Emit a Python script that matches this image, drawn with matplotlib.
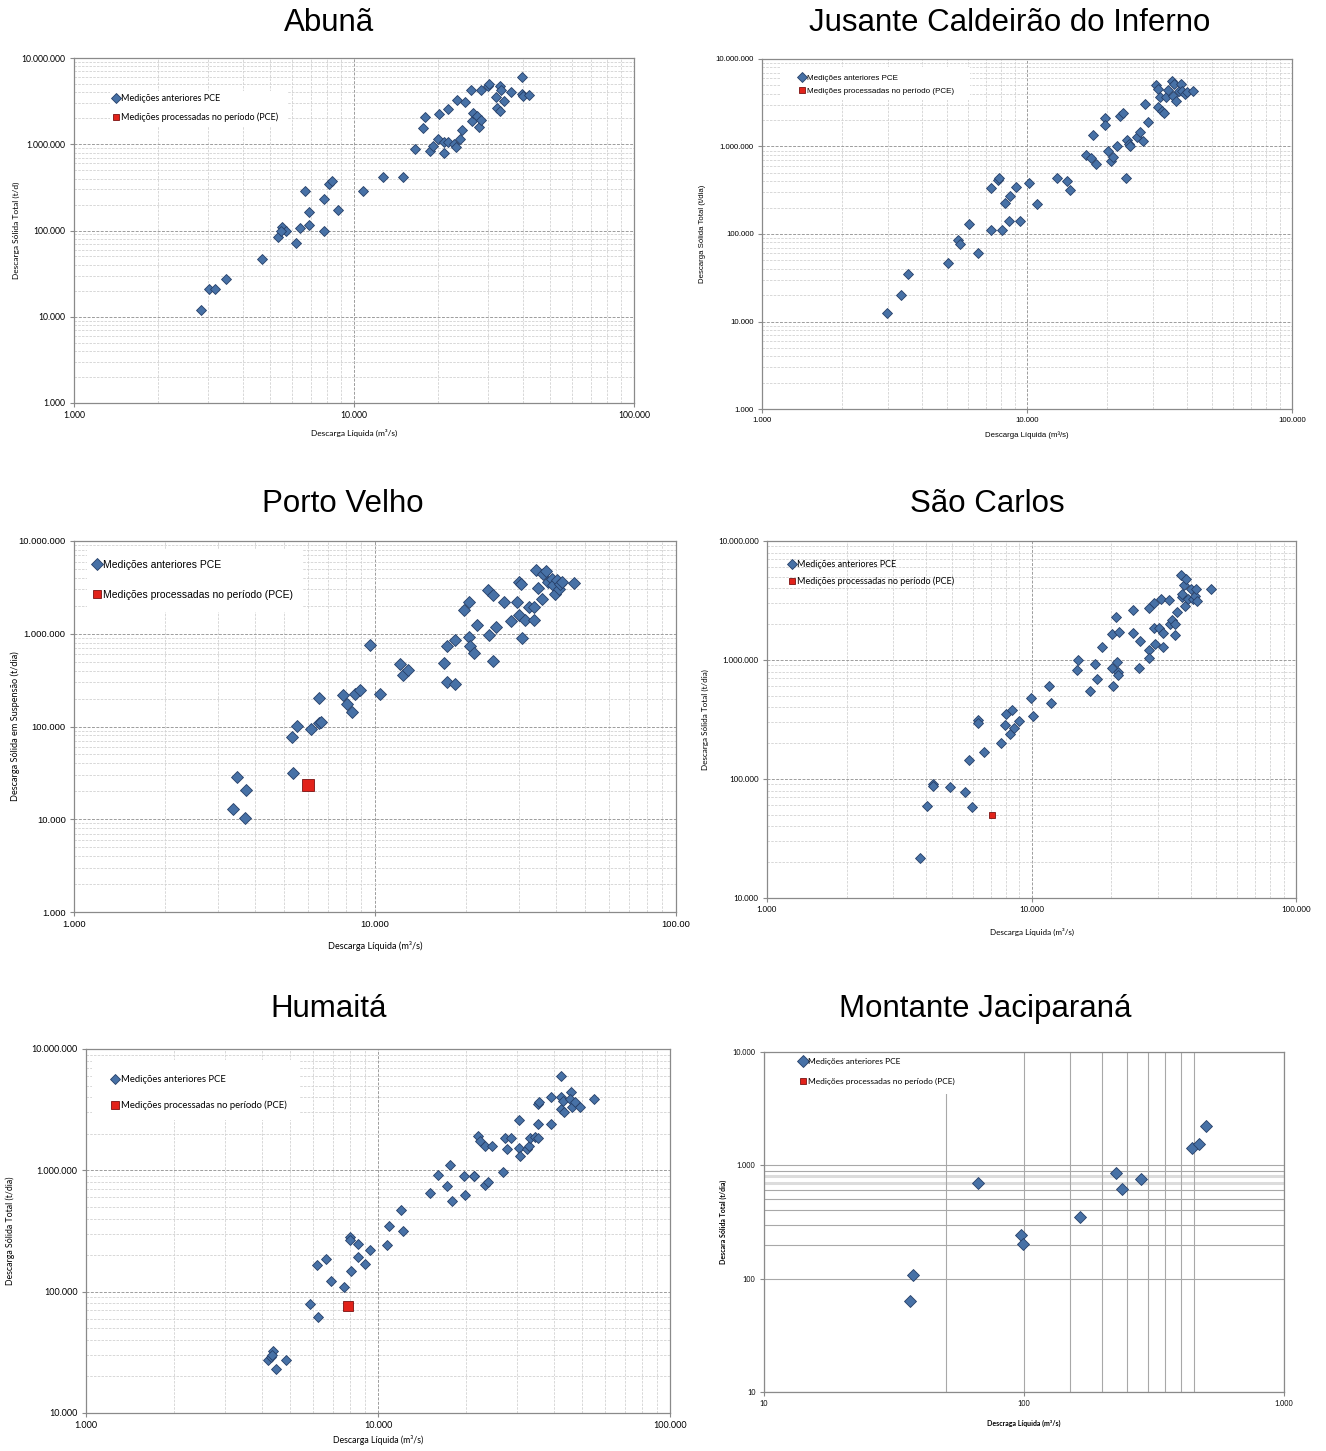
import numpy as np
import matplotlib.pyplot as plt
from matplotlib.lines import Line2D
from matplotlib.patches import Rectangle
from matplotlib.ticker import FixedLocator, FixedFormatter, LogLocator, NullFormatter

W, H, DPI = 1326, 1451, 100

# ---- data (vazao m3/s, descarga solida) ----
abuna_q = [2850, 3040, 3200, 3480, 4700, 5350, 5520, 5700, 5500, 6230, 6440, 6680, 6900, 6900, 7830,
           7830, 8170, 8360, 8740, 10800, 12700, 15000, 16500, 17600, 17900, 18700, 19100, 20000,
           20200, 20900, 20900, 21600, 21600, 22800, 23200, 23400, 24000, 24400, 25000, 26100, 26300,
           26600, 27500, 28000, 28500, 28500, 30100, 30400, 32100, 32500, 33300, 33300, 33600, 34400,
           36400, 39800, 39800, 40200, 42300]
abuna_qs = [11900, 21000, 21000, 27400, 47100, 83400, 110000, 100000, 100000, 71600, 107000, 290000,
            162000, 117000, 234000, 99500, 346000, 378000, 175000, 284000, 417000, 413000, 881000,
            1540000, 2070000, 828000, 964000, 1160000, 2240000, 792000, 1070000, 1070000, 2560000,
            1000000, 930000, 3290000, 1160000, 1480000, 3100000, 4290000, 1840000, 2300000, 2150000,
            1580000, 4300000, 1930000, 4690000, 5000000, 3530000, 2630000, 4700000, 2400000, 4300000,
            3150000, 4000000, 5970000, 3860000, 3600000, 3750000]
abuna_new_q, abuna_new_qs = [], []

jusante_q = [2970, 3360, 3550, 5020, 5490, 5580, 6040, 6530, 7310, 7310, 7780, 7830, 8060, 8270, 8650,
             8520, 9060, 9390, 10200, 10900, 13000, 14200, 14500, 16700, 17400, 17700, 18200, 19700,
             19700, 20200, 20800, 21200, 21800, 22400, 23000, 23600, 23900, 24300, 24500, 25900, 26700,
             27400, 27900, 28600, 30600, 31200, 31300, 31800, 32300, 32800, 33400, 34000, 35300, 35900,
             35600, 36600, 37300, 38200, 38600, 39400, 40100, 42400]
jusante_qs = [12600, 20000, 34700, 46700, 84600, 76300, 131000, 60700, 112000, 338000, 417000, 440000,
              112000, 228000, 271000, 139000, 344000, 141000, 385000, 218000, 440000, 403000, 315000,
              790000, 743000, 1370000, 634000, 2120000, 1780000, 900000, 675000, 755000, 1000000,
              2260000, 2400000, 440000, 1200000, 1080000, 1000000, 1300000, 1460000, 1170000, 3070000,
              1930000, 5100000, 4550000, 2810000, 3660000, 2530000, 2410000, 3660000, 4430000, 5660000,
              5180000, 3820000, 3350000, 4280000, 5180000, 4340000, 3990000, 4170000, 4340000]
jusante_new_q, jusante_new_qs = [], []

porto_q = [3470, 3370, 3730, 3690, 5360, 5310, 5490, 6120, 6510, 6620, 6530, 7800, 8070, 8410, 8610,
           8890, 9640, 10400, 12100, 12400, 12900, 17000, 17400, 18400, 17400, 18400, 19700, 20600,
           20600, 20700, 21400, 21900, 23700, 23900, 24600, 24600, 25200, 26800, 28400, 29700, 30000,
           30200, 30500, 30800, 31600, 32600, 33700, 33700, 34200, 34800, 35800, 36200, 37100, 37600,
           38700, 38900, 39600, 40200, 40800, 41300, 41800, 45800]
porto_qs = [28200, 12900, 20900, 10400, 31900, 76200, 101000, 93600, 108000, 112000, 205000, 218000,
            173000, 142000, 226000, 250000, 752000, 223000, 477000, 357000, 405000, 489000, 303000,
            290000, 739000, 851000, 1820000, 2200000, 925000, 733000, 627000, 1240000, 2940000, 979000,
            2600000, 510000, 1190000, 2200000, 1360000, 2200000, 1580000, 3610000, 3420000, 902000,
            1400000, 1920000, 1920000, 1400000, 4910000, 3140000, 2360000, 4380000, 4750000, 3610000,
            3930000, 3330000, 2660000, 3830000, 3060000, 3470000, 3600000, 3550000]
porto_new_q, porto_new_qs = [6000], [23300]

carlos_q = [3780, 4030, 4230, 4260, 4900, 5590, 5970, 5780, 6290, 6290, 6620, 7660, 7990, 7960, 8300,
            8440, 8570, 8990, 9930, 10100, 11600, 11800, 14900, 15000, 16600, 17400, 17700, 18500,
            20200, 20200, 20400, 20900, 21100, 21300, 21300, 21500, 24100, 24100, 25400, 25700, 27900,
            27900, 27900, 29000, 29000, 29400, 30300, 31000, 31300, 31300, 33200, 33300, 34000, 34900,
            35000, 35400, 36700, 37000, 37000, 37800, 38000, 38400, 39200, 40000, 40800, 41500, 42000,
            42300, 47800]
carlos_qs = [21500, 59200, 90900, 86500, 85300, 77300, 58700, 145000, 316000, 296000, 169000, 200000,
             355000, 282000, 237000, 378000, 266000, 310000, 480000, 341000, 599000, 435000, 826000,
             1000000, 545000, 927000, 690000, 1290000, 854000, 1650000, 599000, 2300000, 968000,
             800000, 750000, 1720000, 2610000, 1690000, 854000, 1450000, 2750000, 1210000, 1030000,
             3000000, 1840000, 1370000, 1840000, 3260000, 1670000, 1280000, 3200000, 2020000, 2160000,
             1620000, 2000000, 2530000, 5170000, 3410000, 3600000, 4270000, 2820000, 4800000, 3260000,
             3950000, 3260000, 3480000, 3950000, 3160000, 3950000]
carlos_new_q, carlos_new_qs = [7060], [49500]

humaita_q = [4200, 4300, 4360, 4340, 4480, 4860, 5830, 6230, 6190, 6660, 6890, 7630, 8020, 8020, 8070,
             8510, 8510, 9060, 9380, 10700, 10900, 12000, 12200, 15100, 16100, 17200, 17600, 17900,
             19700, 19900, 21300, 21400, 22000, 22400, 23200, 23200, 23900, 24500, 26800, 27200, 27600,
             28500, 30500, 30500, 30700, 32300, 32800, 33100, 34400, 35300, 35300, 35700, 35300, 39100,
             39100, 42500, 42500, 42500, 43000, 43500, 45700, 45400, 46300, 47200, 49000, 54900]
humaita_qs = [27300, 29100, 32200, 30300, 23100, 27300, 79000, 62300, 167000, 186000, 122000, 110000,
              280000, 265000, 147000, 247000, 192000, 169000, 220000, 244000, 350000, 471000, 318000,
              650000, 916000, 748000, 1110000, 562000, 903000, 627000, 895000, 903000, 1930000,
              1760000, 1600000, 762000, 800000, 1600000, 965000, 1850000, 1500000, 1830000, 2620000,
              1530000, 1320000, 1500000, 1600000, 1850000, 1870000, 1840000, 3520000, 3630000, 2410000,
              4050000, 2410000, 6030000, 3990000, 3200000, 3750000, 3000000, 4390000, 3870000, 3300000,
              3630000, 3300000, 3870000]
humaita_new_q, humaita_new_qs = [7910], [76700]

jaci_q = [36.3, 37.4, 66.4, 97.2, 99.3, 164, 226, 239, 281, 443, 469, 501]
jaci_qs = [63, 108, 703, 244, 203, 349, 850, 619, 753, 1410, 1530, 2230]
jaci_new_q, jaci_new_qs = [], []

# tick values / labels
ticks_q = [1000, 10000, 100000]
labels_q = ['1.000', '10.000', '100.000']
labels_q_pv = ['1.000', '10.000', '100.00']
ticks_qs7 = [1000, 10000, 100000, 1000000, 10000000]
labels_qs7 = ['1.000', '10.000', '100.000', '1.000.000', '10.000.000']
ticks_qs4 = [10000, 100000, 1000000, 10000000]
labels_qs4 = ['10.000', '100.000', '1.000.000', '10.000.000']
ticks_jq = [10, 100, 1000]
labels_jq = ['10', '100', '1.000']
ticks_jqs = [10, 100, 1000, 10000]
labels_jqs = ['10', '100', '1.000', '10.000']

leg_old = 'Medições anteriores PCE'
leg_new = 'Medições processadas no período (PCE)'
xlab = 'Descarga Líquida (m³/s)'

BLUE, BLUE_E = '#4771A6', '#263F68'
RED, RED_E = '#E2231B', '#7A1212'
CAL, ARI = ['Lato', 'DejaVu Sans'], ['Liberation Sans', 'DejaVu Sans']

fig = plt.figure(figsize=(W / DPI, H / DPI), dpi=DPI)


def fx(p):
    return p / W


def fy(p):
    return 1 - p / H


def panel(box, title, tpos, q, qs, nq, nqs, xt, xl, yt, yl, ylabel, xlabel,
          ylab_x, xlab_y, lbox, lpos, lgap, fam, tfs, lfs, gfs, ms, msn, bold=False, excel2=False):
    x0, x1, y0, y1 = box
    ax = fig.add_axes([fx(x0), fy(y1), (x1 - x0) / W, (y1 - y0) / H])
    ax.set_xscale('log')
    ax.set_yscale('log')
    ax.plot(q, qs, ls='none', marker='D', ms=ms, color=BLUE, mec=BLUE_E, mew=0.6, zorder=3)
    ax.plot(nq, nqs, ls='none', marker='s', ms=msn, color=RED, mec=RED_E, mew=0.6, zorder=4)
    ax.set_xlim(xt[0], xt[-1])
    ax.set_ylim(yt[0], yt[-1])
    ax.xaxis.set_major_locator(FixedLocator(xt))
    ax.xaxis.set_major_formatter(FixedFormatter(xl))
    ax.yaxis.set_major_locator(FixedLocator(yt))
    ax.yaxis.set_major_formatter(FixedFormatter(yl))
    ax.xaxis.set_minor_formatter(NullFormatter())
    ax.yaxis.set_minor_formatter(NullFormatter())
    if excel2:
        ax.xaxis.set_minor_locator(FixedLocator([50, 150, 200, 250, 300, 350, 400, 450]))
        ax.yaxis.set_minor_locator(FixedLocator([200, 300, 400, 500, 600, 900]))
        ax.grid(True, which='both', color='#A8A8A8', lw=0.8, ls='-')
        for v in (700, 800):
            ax.axhline(v, color='#DCDCDC', lw=2.2, zorder=0.4)
    else:
        ax.xaxis.set_minor_locator(LogLocator(base=10, subs=np.arange(2, 10)))
        ax.yaxis.set_minor_locator(LogLocator(base=10, subs=np.arange(2, 10)))
        ax.grid(True, which='major', color='#9C9C9C', lw=0.7, ls=(0, (3, 1.5)))
        ax.grid(True, which='minor', color='#D2D2D2', lw=0.6, ls=(0, (3, 1.5)))
    ax.set_axisbelow(True)
    for s in ax.spines.values():
        s.set_color('#8A8A8A')
        s.set_linewidth(0.9)
    ax.tick_params(which='major', length=3, color='#8A8A8A', labelsize=tfs, pad=3)
    ax.tick_params(which='minor', length=0)
    wt = 'bold' if bold else 'normal'
    for t in ax.get_xticklabels() + ax.get_yticklabels():
        t.set_family(fam[0])
    ax.set_ylabel(ylabel, family=fam[1], fontsize=lfs, weight=wt)
    ax.set_xlabel(xlabel, family=fam[1], fontsize=lfs, weight=wt)
    ax.yaxis.set_label_coords((ylab_x - x0) / (x1 - x0), 0.5)
    ax.xaxis.set_label_coords(0.5, (y1 - xlab_y) / (y1 - y0))
    ax.yaxis.label.set_va('center')
    ax.xaxis.label.set_va('center')
    if lbox is not None:
        bx0, bx1, by0, by1 = lbox
        ax.add_patch(Rectangle((fx(bx0), fy(by1)), (bx1 - bx0) / W, (by1 - by0) / H,
                               transform=fig.transFigure, facecolor='white', edgecolor='none',
                               zorder=1, clip_on=False))
    h = [Line2D([], [], ls='none', marker='D', ms=ms, color=BLUE, mec=BLUE_E, mew=0.6),
         Line2D([], [], ls='none', marker='s', ms=min(msn, 6), color=RED, mec=RED_E, mew=0.6)]
    fpx = gfs * DPI / 72
    hl = 1.0
    ax.legend(h, [leg_old, leg_new], loc='upper left',
              bbox_to_anchor=(fx(lpos[0] - hl * fpx / 2), fy(lpos[1] - fpx * 0.62)),
              bbox_transform=fig.transFigure, frameon=False, borderpad=0, borderaxespad=0,
              handlelength=hl, handletextpad=0.1, labelspacing=(lgap - fpx) / fpx,
              prop={'family': fam[2], 'size': gfs})
    fig.text(fx(tpos[0]), fy(tpos[1]), title, ha='center', va='baseline', fontsize=22.5,
             family=ARI)
    return ax


panel((74, 634, 58, 403), 'Abunã', (329, 31), abuna_q, abuna_qs, abuna_new_q, abuna_new_qs,
      ticks_q, labels_q, ticks_qs7, labels_qs7, 'Descarga Sólida Total (t/d)', xlab,
      16, 433, (110, 287, 91, 127), (116, 100), 18, (CAL, CAL, CAL), 6.2, 6.0, 6.5, 4.6, 5)

panel((762, 1292, 59, 409), 'Jusante Caldeirão do Inferno', (1010, 31), jusante_q, jusante_qs,
      jusante_new_q, jusante_new_qs, ticks_q, labels_q, ticks_qs7, labels_qs7,
      'Descarga Sólida Total (t/dia)', xlab, 703, 435, (780, 970, 67, 100), (802, 79), 14,
      (ARI, ARI, ARI), 5.6, 5.6, 5.8, 4.6, 5)

panel((74, 676, 541, 912), 'Porto Velho', (343, 512), porto_q, porto_qs, porto_new_q, porto_new_qs,
      ticks_q, labels_q_pv, ticks_qs7, labels_qs7, 'Descarga Sólida em Suspensão (t/dia)', xlab,
      15, 946, (87, 303, 550, 612), (97, 566), 31, (ARI, CAL, ARI), 6.8, 6.6, 7.5, 6, 8)

panel((767, 1296, 541, 898), 'São Carlos', (987, 512), carlos_q, carlos_qs, carlos_new_q,
      carlos_new_qs, ticks_q, labels_q, ticks_qs4, labels_qs4, 'Descarga Sólida Total (t/dia)',
      xlab, 705, 932, None, (792, 566), 16, (CAL, CAL, CAL), 5.8, 5.9, 6.5, 5, 4.5)

panel((86, 670, 1049, 1413), 'Humaitá', (329, 1017), humaita_q, humaita_qs, humaita_new_q,
      humaita_new_qs, ticks_q, labels_q, ticks_qs4, labels_qs4, 'Descarga Sólida Total (t/dia)',
      xlab, 10, 1440, (92, 300, 1060, 1120), (115, 1081), 26, (CAL, CAL, CAL), 6.5, 6.3, 6.8, 5.5,
      7.5)

panel((764, 1284, 1052, 1392), 'Montante Jaciparaná', (985, 1017), jaci_q, jaci_qs, jaci_new_q,
      jaci_new_qs, ticks_jq, labels_jq, ticks_jqs, labels_jqs, 'Descara Sólida Total (t/dia)',
      'Descraga Líquida (m³/s)', 723, 1423, (770, 1000, 1053, 1094), (803, 1063), 21,
      (CAL, CAL, CAL), 5.2, 5.0, 6.0, 6, 5, bold=True, excel2=True)

fig.savefig('out.png', dpi=DPI)
